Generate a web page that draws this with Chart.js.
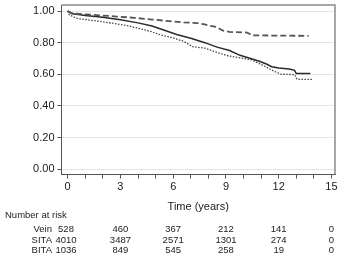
<!DOCTYPE html>
<html>
<head>
<meta charset="utf-8">
<script src="https://cdn.jsdelivr.net/npm/chart.js@4.4.1/dist/chart.umd.min.js"></script>
<style>
  html, body { margin: 0; padding: 0; background: #fff; }
  canvas { display: block; }
</style>
</head>
<body>
<canvas id="c" width="345" height="263"></canvas>
<script>
// ---- Data ----
const bitaTimes = [0, 0.2, 0.8, 1.8, 2.8, 3.8, 4.8, 5.8, 6.6, 7.4, 7.8, 8.1, 8.5, 8.8, 9.2, 10.2, 10.5, 13.7];
const bitaSurv  = [1.0, 0.985, 0.98, 0.973, 0.965, 0.957, 0.946, 0.936, 0.928, 0.924, 0.915, 0.906, 0.898, 0.877, 0.868, 0.864, 0.846, 0.843];

const sitaTimes = [0, 0.3, 1.0, 2.0, 3.0, 4.0, 4.8, 5.5, 6.2, 7.0, 7.8, 8.5, 9.2, 9.8, 10.4, 10.9, 11.3, 11.6, 12.0, 12.6, 12.9, 13.0, 13.8];
const sitaSurv  = [1.0, 0.982, 0.972, 0.96, 0.945, 0.925, 0.905, 0.878, 0.852, 0.828, 0.8, 0.772, 0.75, 0.72, 0.7, 0.683, 0.665, 0.648, 0.64, 0.633, 0.625, 0.605, 0.605];

const veinTimes = [0, 0.1, 0.5, 1.2, 2.0, 2.8, 3.5, 4.2, 4.7, 5.2, 6.0, 6.6, 7.1, 7.8, 8.4, 9.0, 9.7, 10.4, 10.9, 11.3, 11.7, 12.1, 12.9, 13.05, 13.9];
const veinSurv  = [1.0, 0.975, 0.955, 0.943, 0.932, 0.918, 0.905, 0.886, 0.872, 0.852, 0.83, 0.808, 0.775, 0.765, 0.742, 0.72, 0.706, 0.693, 0.668, 0.645, 0.622, 0.601, 0.598, 0.568, 0.568];

const yTickValues = [0, 0.2, 0.4, 0.6, 0.8, 1.0];
const xTickValues = [0, 1, 2, 3, 4, 5, 6, 7, 8, 9, 10, 11, 12, 13, 14, 15];
const riskTimes = [0, 3, 6, 9, 12, 15];
const riskGroups = ['Vein', 'SITA', 'BITA'];
const veinRisk = [528, 460, 367, 212, 141, 0];
const sitaRisk = [4010, 3487, 2571, 1301, 274, 0];
const bitaRisk = [1036, 849, 545, 258, 19, 0];
const riskRows = [veinRisk, sitaRisk, bitaRisk];

const FONT = '"Liberation Sans", Arial, Helvetica, sans-serif';
const toPts = (ts, ss) => ts.map((t, i) => ({ x: t, y: ss[i] }));

const boxPlugin = {
  id: 'box',
  afterDatasetsDraw(chart) {
    const { ctx, chartArea: a } = chart;
    ctx.save();
    ctx.strokeStyle = '#8a8a8a';
    ctx.lineWidth = 1.5;
    ctx.beginPath();
    ctx.moveTo(a.left, a.top);
    ctx.lineTo(a.right, a.top);
    ctx.lineTo(a.right, a.bottom);
    ctx.stroke();
    ctx.restore();
  }
};

const riskPlugin = {
  id: 'riskTable',
  afterDraw(chart) {
    const { ctx } = chart;
    const xs = chart.scales.x;
    ctx.save();
    ctx.fillStyle = '#222';
    ctx.font = '9.5px ' + FONT;
    ctx.textBaseline = 'middle';
    ctx.textAlign = 'left';
    ctx.fillText('Number at risk', 5, 215.5);
    const rowY = [229, 240, 250.5];
    riskGroups.forEach((g, r) => {
      ctx.textAlign = 'right';
      ctx.fillText(g, 52, rowY[r]);
      ctx.textAlign = 'center';
      riskRows[r].forEach((n, i) => {
        let x = xs.getPixelForValue(riskTimes[i]);
        if (i === 0) x = 66;
        ctx.fillText(String(n), x, rowY[r]);
      });
    });
    ctx.restore();
  }
};

new Chart(document.getElementById('c'), {
  type: 'line',
  data: {
    datasets: [
      {
        label: 'BITA',
        data: toPts(bitaTimes, bitaSurv),
        borderColor: '#555',
        borderWidth: 1.8,
        borderDash: [6, 3],
        pointRadius: 0,
        tension: 0,
        fill: false
      },
      {
        label: 'SITA',
        data: toPts(sitaTimes, sitaSurv),
        borderColor: '#2a2a2a',
        borderWidth: 1.5,
        pointRadius: 0,
        tension: 0,
        fill: false
      },
      {
        label: 'Vein',
        data: toPts(veinTimes, veinSurv),
        borderColor: '#444',
        borderWidth: 1.3,
        borderDash: [1.5, 1.5],
        pointRadius: 0,
        tension: 0,
        fill: false
      }
    ]
  },
  options: {
    responsive: false,
    animation: false,
    devicePixelRatio: 1,
    layout: { padding: { left: 0, right: 10, top: 5, bottom: 0 } },
    plugins: { legend: { display: false }, tooltip: { enabled: false }, title: { display: false } },
    scales: {
      x: {
        type: 'linear',
        min: -0.35,
        max: 15.2,
        afterBuildTicks: (s) => { s.ticks = xTickValues.map(v => ({ value: v })); },
        afterFit: (s) => { s.height = 88.5; s.paddingLeft = 0; s.paddingRight = 0; },
        ticks: {
          autoSkip: false,
          maxRotation: 0,
          padding: 2,
          color: '#222',
          font: { family: FONT, size: 11 },
          callback: (v) => (v % 3 === 0 ? String(v) : '')
        },
        grid: { drawOnChartArea: false, drawTicks: true, tickLength: 4, tickColor: '#555' },
        border: { color: '#555', width: 1 },
        title: {
          display: true,
          text: 'Time (years)',
          color: '#222',
          font: { family: FONT, size: 11 },
          padding: { top: 0, bottom: 49 }
        }
      },
      y: {
        type: 'linear',
        min: -0.033,
        max: 1.038,
        afterBuildTicks: (s) => { s.ticks = yTickValues.map(v => ({ value: v })); },
        afterFit: (s) => { s.width = 61.5; s.paddingTop = 0; s.paddingBottom = 0; },
        ticks: {
          padding: 3,
          color: '#222',
          font: { family: FONT, size: 11 },
          callback: (v) => Number(v).toFixed(2)
        },
        grid: { color: '#e4e4e4', lineWidth: 1, drawTicks: true, tickLength: 4, tickColor: '#555' },
        border: { color: '#555', width: 1 }
      }
    }
  },
  plugins: [boxPlugin, riskPlugin]
});
</script>
</body>
</html>
